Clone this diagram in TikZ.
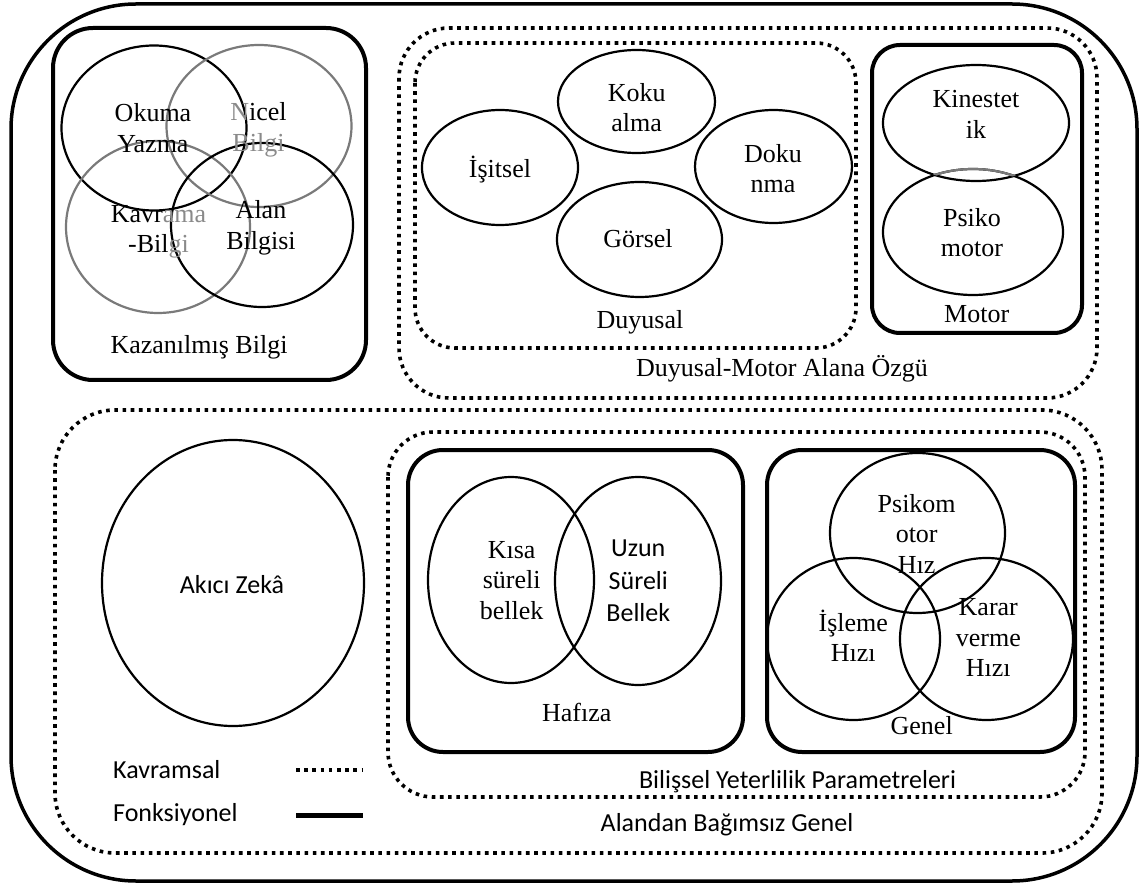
\documentclass[tikz,border=0pt]{standalone}
\usepackage{fontspec}
\setmainfont{Liberation Serif}
\newfontfamily\cbfont{Carlito}
\usetikzlibrary{shapes.geometric}
\definecolor{cgray}{HTML}{7A7A7A}
\definecolor{tgray}{HTML}{8A8A8A}
\tikzset{
  outerbox/.style={draw, line width=3.5pt, rounded corners=125pt},
  concbox/.style={draw, line width=3.6pt, dash pattern=on 3.6pt off 4.6pt},
  funcbox/.style={draw, line width=4pt},
  ell/.style={ellipse, draw, line width=2.2pt, inner sep=0pt},
  tm/.style={inner sep=0pt, align=center, font=\fontsize{26}{30.5}\selectfont},
  cb/.style={inner sep=0pt, align=center, font=\cbfont\fontsize{26}{32.5}\selectfont},
}
\begin{document}
\begin{tikzpicture}[x=1pt,y=-1pt]
\useasboundingbox (0,0) rectangle (1141,885);
% outer frame
\draw[outerbox] (11,4) rectangle (1137,881);

% ---------- Kazanilmis Bilgi ----------
\draw[funcbox, rounded corners=40pt] (53,28) rectangle (366,380);
\node[ell, minimum width=185pt, minimum height=165pt] (okuma) at (154,128) {};
\node[ell, draw=cgray, minimum width=185pt, minimum height=162pt] (nicel) at (259,126) {};
\node[ell, draw=cgray, minimum width=184pt, minimum height=172pt] (kavrama) at (158,227) {};
\node[ell, minimum width=182pt, minimum height=164pt] (alan) at (262,225) {};
\node[tm] (okumaT) at (153,128) {Okuma\\Yazma};
\node[tm] (nicelT) at (258.5,130) {\textcolor{tgray}{N}icel\\\textcolor{tgray}{Bilgi}};
\node[tm] (kavramaT) at (158.5,232) {Kavr\textcolor{tgray}{ama}\\-Bil\textcolor{tgray}{gi}};
\node[tm] (alanT) at (261,228) {Alan\\Bilgisi};
\node[tm] (kazT) at (199,347) {Kazanılmış Bilgi};

% ---------- Duyusal-Motor ----------
\draw[concbox, rounded corners=50pt] (399,28) rectangle (1097,398);
\draw[concbox, rounded corners=40pt] (415,43) rectangle (856,348);
\draw[funcbox, rounded corners=28pt] (872,45) rectangle (1082,333);
\node[ell, minimum width=157pt, minimum height=103pt] (koku) at (636.5,101.5) {};
\node[ell, minimum width=156pt, minimum height=115pt] (isitsel) at (500,167.5) {};
\node[ell, minimum width=165pt, minimum height=115pt] (gorsel) at (639.5,239.5) {};
\node[ell, minimum width=157pt, minimum height=113pt] (dokunma) at (773.5,166.5) {};
\node[ell, minimum width=186pt, minimum height=116pt] (kinestetik) at (976,123) {};
\node[ell, minimum width=180pt, minimum height=126pt] (psikomotor) at (973,232) {};
\begin{scope}
  \clip (976,123) ellipse [x radius=93pt, y radius=58pt];
  \draw[cgray, line width=2.2pt] (973,232) ellipse [x radius=90pt, y radius=63pt];
\end{scope}
\node[tm] (kokuT) at (636.7,107.7) {Koku\\alma};
\node[tm] (isitselT) at (500,170) {İşitsel};
\node[tm] (gorselT) at (638,238.3) {Görsel};
\node[tm] (dokunmaT) at (773,168.5) {Doku\\nma};
\node[tm] (duyusalT) at (640,322) {Duyusal};
\node[tm] (dmT) at (782,368.6) {Duyusal-Motor Alana Özgü};
\node[tm] (kinT) at (976,114.3) {Kinestet\\ik};
\node[tm] (psikoT) at (972,232.7) {Psiko\\motor};
\node[tm] (motorT) at (976.7,314) {Motor};

% ---------- Alandan Bagimsiz Genel ----------
\draw[concbox, rounded corners=60pt] (55,410) rectangle (1102,853);
\draw[concbox, rounded corners=45pt] (388,432) rectangle (1085,797);
\draw[funcbox, rounded corners=35pt] (408,450) rectangle (743,752);
\draw[funcbox, rounded corners=35pt] (767,450) rectangle (1075,752);
\node[ell, minimum width=262pt, minimum height=286pt] (akici) at (233,583) {};
\node[cb] (akiciT) at (232,585) {Akıcı Zekâ};
\node[ell, minimum width=166pt, minimum height=206pt] (kisa) at (511,580) {};
\node[ell, minimum width=166pt, minimum height=208pt] (uzun) at (638,581) {};
\node[tm] (kisaT) at (511.7,580.2) {Kısa\\süreli\\bellek};
\node[cb] (uzunT) at (638.3,581) {Uzun\\Süreli\\Bellek};
\node[tm] (hafizaT) at (576.7,712.7) {Hafıza};
\node[ell, minimum width=175pt, minimum height=160pt] (phiz) at (917.5,533) {};
\node[ell, minimum width=173pt, minimum height=162pt] (isleme) at (853.5,639) {};
\node[ell, minimum width=173pt, minimum height=162pt] (karar) at (986.5,639) {};
\node[tm] (phizT) at (916.7,533.5) {Psikom\\otor\\Hız};
\node[tm] (islemeT) at (853.3,635.7) {İşleme\\Hızı};
\node[tm] (kararT) at (988.3,637.7) {Karar\\verme\\Hızı};
\node[tm] (genelT) at (921.7,726) {Genel};
\node[cb] (bilT) at (797.5,782) {Bilişsel Yeterlilik Parametreleri};
\node[cb] (alandanT) at (727,825) {Alandan Bağımsız Genel};

% ---------- legend ----------
\node[cb, anchor=west] (kavT) at (113,770) {Kavramsal};
\node[cb, anchor=west] (fonT) at (113,815) {Fonksiyonel};
\coordinate (k1) at (296,770); \coordinate (k2) at (363,770);
\coordinate (f1) at (296,815); \coordinate (f2) at (363,815);
\draw[line width=3.6pt, dash pattern=on 3.6pt off 4.6pt] (k1) -- (k2);
\draw[line width=5pt] (f1) -- (f2);
\end{tikzpicture}
\end{document}
